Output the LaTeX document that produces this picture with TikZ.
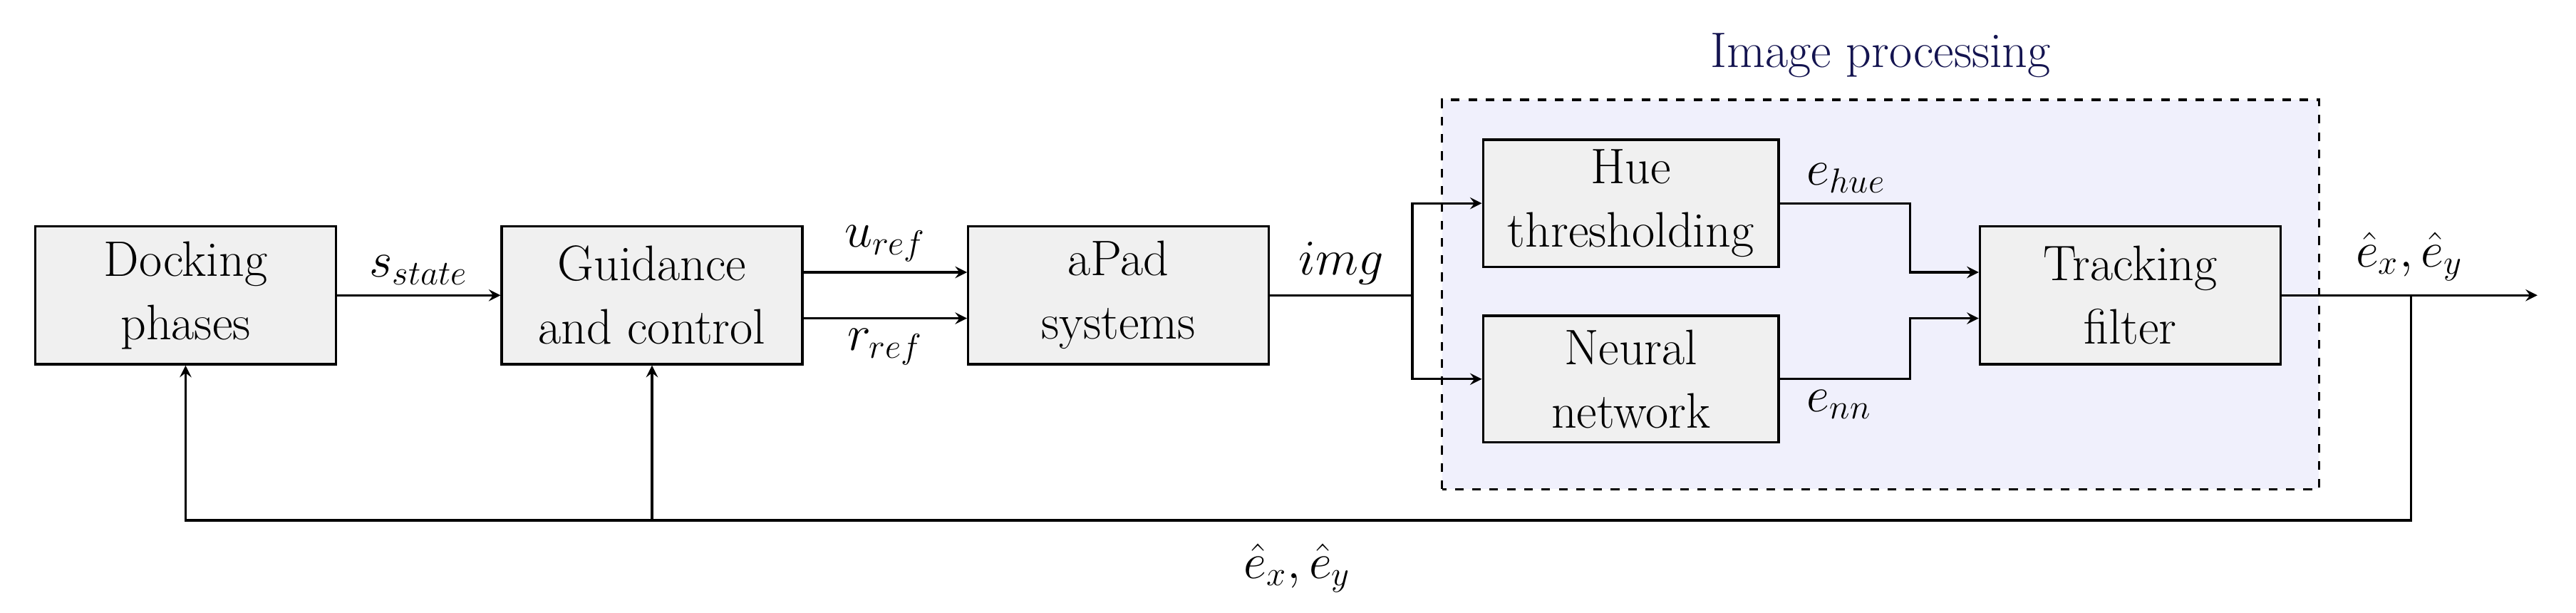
\documentclass[tikz,border=0pt]{standalone}
\usetikzlibrary{calc}
\definecolor{procfill}{RGB}{240,240,252}
\definecolor{proctitle}{RGB}{20,20,80}
\begin{document}
\begin{tikzpicture}[
  >=stealth,
  font=\LARGE,
  block/.style={draw, thick, fill=gray!12, minimum width=3.66cm, minimum height=1.68cm, align=center},
  small block/.style={block, minimum width=3.6cm, minimum height=1.54cm},
  sig/.style={thick, ->},
  ]
  \useasboundingbox (0,-0.04) rectangle (31.37,7.415);
  % 图像处理区域
  \draw[thick, dashed, fill=procfill] (17.56,1.46) rectangle (28.24,6.2);
  \node[text=proctitle] (title) at (22.9,6.74) {Image processing};

  % 方框
  \node[block] (dock) at (2.26,3.82) {Docking\\phases};
  \node[block] (guid) at (7.94,3.82) {Guidance\\and control};
  \node[block] (apad) at (13.62,3.82) {aPad\\systems};
  \node[small block] (hue) at (19.86,4.94) {Hue\\thresholding};
  \node[small block] (nn) at (19.86,2.8) {Neural\\network};
  \node[block] (track) at (25.94,3.82) {Tracking\\filter};

  % 坐标定义
  \coordinate (split) at (17.2,3.82);
  \coordinate (merge) at (23.26,3.82);
  \coordinate (out) at (30.9,3.82);
  \coordinate (tap) at (29.36,3.82);
  \coordinate (low) at (29.36,1.08);

  % 连线
  \draw[sig] (dock) -- node[above] {$s_{state}$} (guid);
  \draw[sig] ($(guid.east)+(0,0.28)$) -- node[above] {$u_{ref}$} ($(apad.west)+(0,0.28)$);
  \draw[sig] ($(guid.east)+(0,-0.28)$) -- node[below] {$r_{ref}$} ($(apad.west)+(0,-0.28)$);
  \draw[thick] (apad) -- node[above] {$img$} (split);
  \draw[sig] (split) |- (hue);
  \draw[sig] (split) |- (nn);
  \draw[sig] (hue.east) node[above right, xshift=0.2cm] {$e_{hue}$} -| (merge |- hue.east) |- ($(track.west)+(0,0.28)$);
  \draw[sig] (nn.east) node[below right, xshift=0.2cm] {$e_{nn}$} -| (merge |- nn.east) |- ($(track.west)+(0,-0.28)$);
  \draw[sig] (track) -- (out);
  \node[above] (est) at ($(track.east)!0.5!(out)+(0,0.05)$) {$\hat{e}_x,\hat{e}_y$};

  % 反馈
  \draw[sig] (tap) -- (low) -| (dock);
  \draw[sig] (guid |- low) -- (guid);
  \node (fb) at (15.8,0.5) {$\hat{e}_x,\hat{e}_y$};
\end{tikzpicture}
\end{document}
